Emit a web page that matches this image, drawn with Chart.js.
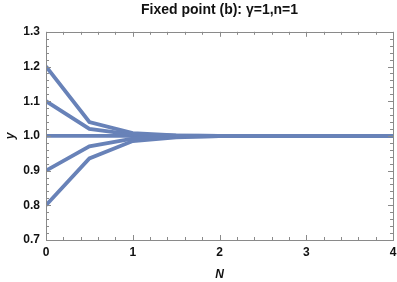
<!DOCTYPE html>
<html>
<head>
<meta charset="utf-8">
<script src="https://cdn.jsdelivr.net/npm/chart.js@4"></script>
<style>
  html, body { margin: 0; padding: 0; background: #fff; }
  #wrap { width: 397px; height: 282px; }
</style>
</head>
<body>
<div id="wrap"><canvas id="chart" width="397" height="282"></canvas></div>
<script>
// DATA
const nValues = [0, 0.5, 1, 1.5, 2, 2.5, 3, 3.5, 4];
const runStart12 = [1.2, 1.04, 1.008, 1.0015, 1.0003, 1, 1, 1, 1];
const runStart11 = [1.1, 1.02, 1.004, 1.0008, 1.0001, 1, 1, 1, 1];
const runStart10 = [1.0, 1.0, 1.0, 1.0, 1.0, 1, 1, 1, 1];
const runStart09 = [0.9, 0.97, 0.992, 0.998, 0.9996, 1, 1, 1, 1];
const runStart08 = [0.8, 0.935, 0.985, 0.996, 0.9992, 1, 1, 1, 1];
const xTicks = [0, 1, 2, 3, 4];
const yTicks = [0.7, 0.8, 0.9, 1.0, 1.1, 1.2, 1.3];

const lineColor = '#6882b8';
const frameColor = '#8a8a8a';

function toPoints(ys) {
  return nValues.map((n, i) => ({ x: n, y: ys[i] }));
}

const runs = [runStart12, runStart11, runStart10, runStart09, runStart08];

// FRAME + INWARD TICKS
const framePlugin = {
  id: 'frame',
  afterDraw(chart) {
    const { ctx, chartArea: a, scales } = chart;
    const xs = scales.x, ys = scales.y;
    ctx.save();
    ctx.strokeStyle = frameColor;
    ctx.lineWidth = 1;
    ctx.strokeRect(Math.round(a.left) + 0.5, Math.round(a.top) + 0.5,
      Math.round(a.right - a.left), Math.round(a.bottom - a.top));
    ctx.beginPath();
    for (let i = 0; i <= 20; i++) {
      const v = i * 0.2;
      const px = Math.round(xs.getPixelForValue(v)) + 0.5;
      const len = i % 5 === 0 ? 5 : 3;
      ctx.moveTo(px, a.bottom); ctx.lineTo(px, a.bottom - len);
      ctx.moveTo(px, a.top); ctx.lineTo(px, a.top + len);
    }
    for (let i = 0; i <= 30; i++) {
      const v = 0.7 + i * 0.02;
      const py = Math.round(ys.getPixelForValue(v)) + 0.5;
      const len = i % 5 === 0 ? 5 : 3;
      ctx.moveTo(a.left, py); ctx.lineTo(a.left + len, py);
      ctx.moveTo(a.right, py); ctx.lineTo(a.right - len, py);
    }
    ctx.stroke();
    ctx.restore();
  }
};

new Chart(document.getElementById('chart'), {
  type: 'line',
  data: {
    datasets: runs.map(r => ({
      data: toPoints(r),
      borderColor: lineColor,
      borderWidth: 3.8,
      pointRadius: 0,
      tension: 0,
      fill: false
    }))
  },
  options: {
    responsive: false,
    animation: false,
    layout: { padding: { top: 0, right: 4, left: 0, bottom: 0 } },
    plugins: {
      legend: { display: false },
      tooltip: { enabled: false },
      title: {
        display: true,
        fullSize: false,
        text: 'Fixed point (b): γ=1,n=1',
        color: '#111',
        font: { family: 'Liberation Sans', size: 14, weight: 'bold' },
        padding: { top: 2, bottom: 13 }
      }
    },
    scales: {
      x: {
        type: 'linear',
        min: 0, max: 4,
        afterBuildTicks: s => { s.ticks = xTicks.map(v => ({ value: v })); },
        afterFit: s => { s.height = 42; s.paddingLeft = 0; s.paddingRight = 0; },
        grid: { display: false, drawTicks: false },
        border: { display: false },
        ticks: {
          color: '#111',
          padding: 5,
          maxRotation: 0,
          font: { family: 'Liberation Sans', size: 12, weight: 'bold' },
          callback: v => String(v)
        },
        title: {
          display: true,
          text: 'N',
          color: '#111',
          padding: { top: 4, bottom: 0 },
          font: { family: 'Liberation Sans', size: 12, weight: 'bold', style: 'italic' }
        }
      },
      y: {
        min: 0.7, max: 1.3,
        afterBuildTicks: s => { s.ticks = yTicks.map(v => ({ value: v })); },
        afterFit: s => { s.width = 46; },
        grid: { display: false, drawTicks: false },
        border: { display: false },
        ticks: {
          color: '#111',
          padding: 6,
          font: { family: 'Liberation Sans', size: 12, weight: 'bold' },
          callback: v => Number(v).toFixed(1)
        },
        title: {
          display: true,
          text: 'y',
          color: '#111',
          padding: { top: 3, bottom: 0 },
          font: { family: 'Liberation Sans', size: 12, weight: 'bold', style: 'italic' }
        }
      }
    }
  },
  plugins: [framePlugin]
});
</script>
</body>
</html>
